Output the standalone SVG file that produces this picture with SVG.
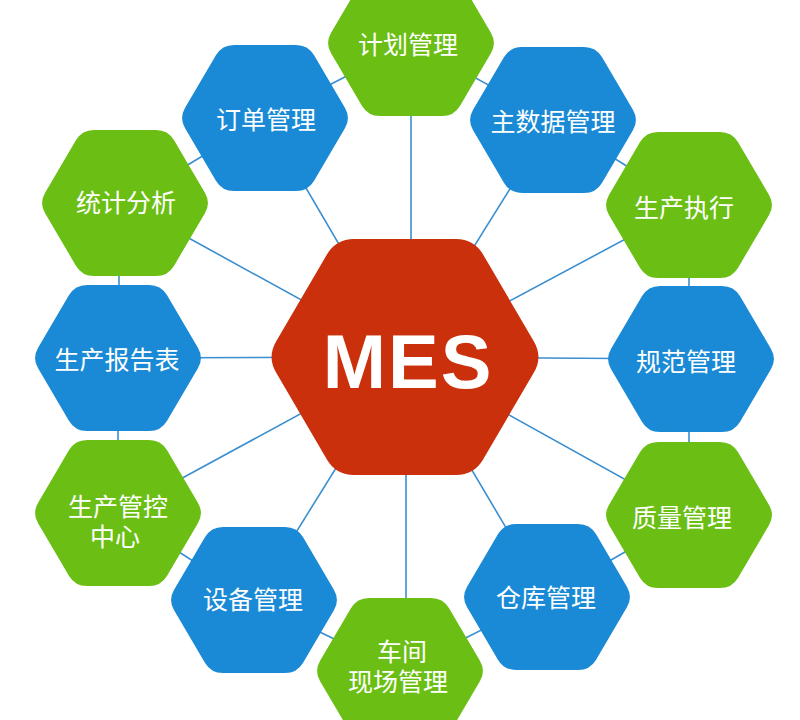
<svg xmlns="http://www.w3.org/2000/svg" xmlns:xlink="http://www.w3.org/1999/xlink" width="800" height="720" viewBox="0 0 800 720">
  <style>
    .green { fill: #6bbf14; }
    .blue { fill: #1a8ad6; }
    .red { fill: #c9300b; }
    .conn line { stroke: #3a8fd0; stroke-width: 1.6; }
    .lbl { fill: #ffffff; font-family: "Liberation Sans", "Noto Sans CJK SC", sans-serif; font-size: 25px; text-anchor: middle; }
    .mes { fill: #ffffff; font-family: "Liberation Sans", Arial, sans-serif; font-weight: bold; font-size: 76px; text-anchor: middle; letter-spacing: 2px; }
  </style>
  <defs>
    <path id="hex" d="M 79.91,10.34 L 49.09,62.66 Q 43,73 31,73 L -31,73 Q -43,73 -49.09,62.66 L -79.91,10.34 Q -86,0 -79.91,-10.34 L -49.09,-62.66 Q -43,-73 -31,-73 L 31,-73 Q 43,-73 49.09,-62.66 L 79.91,-10.34 Q 86,0 79.91,10.34 Z"/>
    <path id="bighex" d="M 128.91,15.54 L 78.09,102.46 Q 69,118 51,118 L -51,118 Q -69,118 -78.09,102.46 L -128.91,15.54 Q -138,0 -128.91,-15.54 L -78.09,-102.46 Q -69,-118 -51,-118 L 51,-118 Q 69,-118 78.09,-102.46 L 128.91,-15.54 Q 138,0 128.91,15.54 Z"/>
  </defs>
  <rect width="800" height="720" fill="#ffffff"/>

  <g id="connectors" class="conn">
    <!-- spokes -->
    <line x1="411" y1="357" x2="411" y2="43"/>
    <line x1="405" y1="357" x2="265" y2="118"/>
    <line x1="405" y1="357" x2="553" y2="120"/>
    <line x1="405" y1="357" x2="125" y2="203"/>
    <line x1="405" y1="357" x2="689" y2="205"/>
    <line x1="405" y1="357" x2="118" y2="358"/>
    <line x1="405" y1="357" x2="691" y2="359"/>
    <line x1="405" y1="357" x2="118" y2="513"/>
    <line x1="405" y1="357" x2="689" y2="515"/>
    <line x1="405" y1="357" x2="254" y2="600"/>
    <line x1="405" y1="357" x2="547" y2="597"/>
    <line x1="406" y1="357" x2="406" y2="671"/>
    <!-- ring -->
    <line x1="265" y1="118" x2="411" y2="43"/>
    <line x1="411" y1="43" x2="553" y2="120"/>
    <line x1="553" y1="120" x2="689" y2="205"/>
    <line x1="689" y1="205" x2="689" y2="359"/>
    <line x1="689" y1="359" x2="689" y2="515"/>
    <line x1="689" y1="515" x2="547" y2="597"/>
    <line x1="547" y1="597" x2="400" y2="671"/>
    <line x1="400" y1="671" x2="254" y2="600"/>
    <line x1="254" y1="600" x2="118" y2="513"/>
    <line x1="118" y1="513" x2="118" y2="358"/>
    <line x1="119" y1="358" x2="119" y2="203"/>
    <line x1="125" y1="203" x2="265" y2="118"/>
  </g>

  <g id="mes">
    <use xlink:href="#bighex" href="#bighex" x="405" y="357" class="red"/>
    <text class="mes" x="408" y="388">MES</text>
  </g>

  <g id="n-jihua">
    <use xlink:href="#hex" href="#hex" x="411" y="43" class="green"/>
    <text class="lbl" x="408" y="54">计划管理</text>
  </g>
  <g id="n-dingdan">
    <use xlink:href="#hex" href="#hex" x="265" y="118" class="blue"/>
    <text class="lbl" x="266" y="129">订单管理</text>
  </g>
  <g id="n-zhushuju">
    <use xlink:href="#hex" href="#hex" x="553" y="120" class="blue"/>
    <text class="lbl" x="553" y="131">主数据管理</text>
  </g>
  <g id="n-tongji">
    <use xlink:href="#hex" href="#hex" x="125" y="203" class="green"/>
    <text class="lbl" x="126" y="212">统计分析</text>
  </g>
  <g id="n-zhixing">
    <use xlink:href="#hex" href="#hex" x="689" y="205" class="green"/>
    <text class="lbl" x="684" y="217">生产执行</text>
  </g>
  <g id="n-baogao">
    <use xlink:href="#hex" href="#hex" x="118" y="358" class="blue"/>
    <text class="lbl" x="117" y="369">生产报告表</text>
  </g>
  <g id="n-guifan">
    <use xlink:href="#hex" href="#hex" x="691" y="359" class="blue"/>
    <text class="lbl" x="686" y="371">规范管理</text>
  </g>
  <g id="n-guankong">
    <use xlink:href="#hex" href="#hex" x="118" y="513" class="green"/>
    <text class="lbl"><tspan x="118" y="516">生产管控</tspan><tspan x="115" y="546">中心</tspan></text>
  </g>
  <g id="n-zhiliang">
    <use xlink:href="#hex" href="#hex" x="689" y="515" class="green"/>
    <text class="lbl" x="682" y="527">质量管理</text>
  </g>
  <g id="n-shebei">
    <use xlink:href="#hex" href="#hex" x="254" y="600" class="blue"/>
    <text class="lbl" x="253" y="609">设备管理</text>
  </g>
  <g id="n-cangku">
    <use xlink:href="#hex" href="#hex" x="547" y="597" class="blue"/>
    <text class="lbl" x="546" y="607">仓库管理</text>
  </g>
  <g id="n-chejian">
    <use xlink:href="#hex" href="#hex" x="400" y="671" class="green"/>
    <text class="lbl"><tspan x="402" y="661">车间</tspan><tspan x="398" y="691">现场管理</tspan></text>
  </g>
</svg>
